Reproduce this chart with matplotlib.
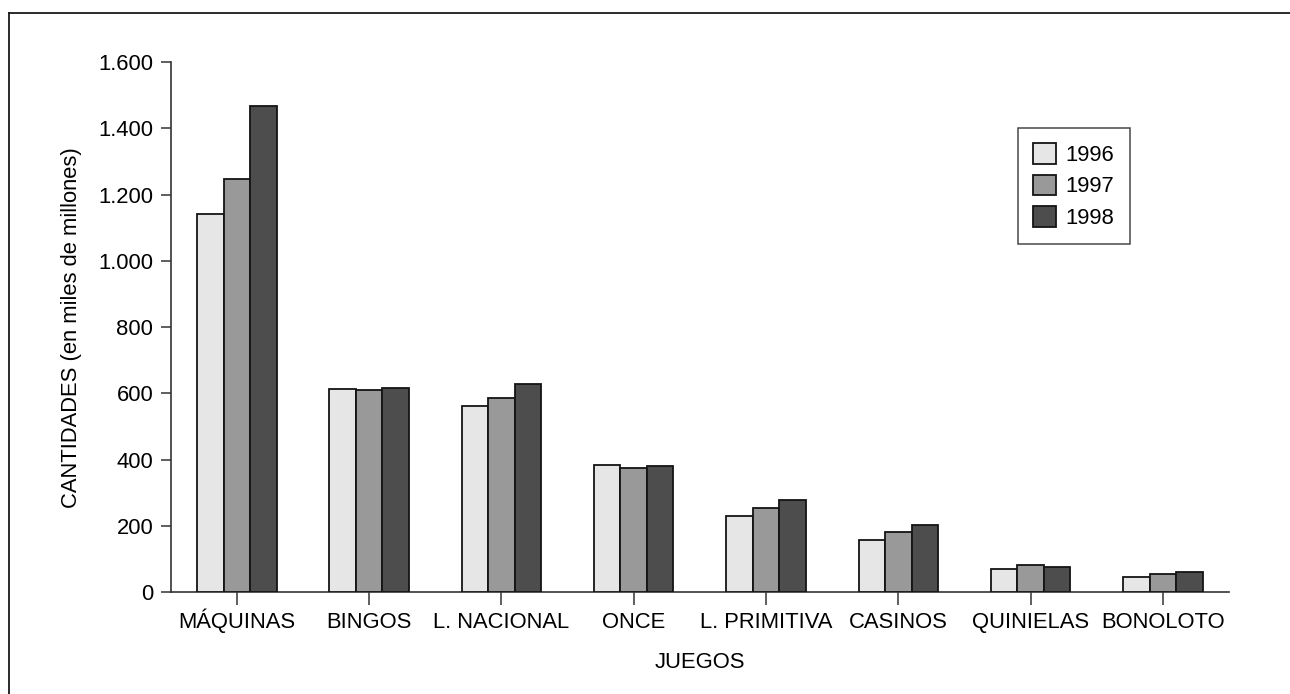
import matplotlib
matplotlib.use("Agg")
import matplotlib.pyplot as plt
from matplotlib.lines import Line2D
from matplotlib.ticker import FuncFormatter
import numpy as np

plt.rcParams['font.family'] = ['Liberation Sans', 'DejaVu Sans']

# Datos
juegos = ['MÁQUINAS', 'BINGOS', 'L. NACIONAL', 'ONCE', 'L. PRIMITIVA',
          'CASINOS', 'QUINIELAS', 'BONOLOTO']
anios = ['1996', '1997', '1998']
v1996 = [1140, 612, 563, 385, 231, 157, 69, 47]
v1997 = [1247, 610, 587, 374, 255, 182, 83, 55]
v1998 = [1468, 616, 628, 380, 279, 203, 77, 62]
colores = ['#e6e6e6', '#999999', '#4d4d4d']

W, H = 1290, 694
fig = plt.figure(figsize=(W / 100, H / 100), dpi=100)
ax = fig.add_axes([170.7 / W, 1 - 592.3 / H, (1229 - 170.7) / W, (592.3 - 62) / H])

x = np.arange(len(juegos))
ancho = 0.2
for k, (serie, col) in enumerate(zip([v1996, v1997, v1998], colores)):
    ax.bar(x + (k - 1) * ancho, serie, ancho, color=col, edgecolor='#141414',
           linewidth=1.3, label=anios[k], zorder=3)

ax.set_xlim(-0.5, len(juegos) - 0.5)
ax.set_ylim(0, 1600)
ax.set_yticks(np.arange(0, 1601, 200))
ax.yaxis.set_major_formatter(FuncFormatter(lambda v, p: f'{int(v):,}'.replace(',', '.')))
ax.set_xticks(x)
ax.set_xticklabels(juegos, va='baseline')

for s in ['top', 'right']:
    ax.spines[s].set_visible(False)
for s in ['left', 'bottom']:
    ax.spines[s].set_color('#333333')
    ax.spines[s].set_linewidth(1.2)

fs = 15.8
ax.tick_params(axis='y', direction='out', length=7.5, width=1.1, color='#333333',
               labelsize=fs, pad=5)
ax.tick_params(axis='x', direction='out', length=9, width=1.1, color='#333333',
               labelsize=fs, pad=16.5)

ax.set_xlabel('JUEGOS', fontsize=fs, labelpad=14)
ax.set_ylabel('CANTIDADES (en miles de millones)', fontsize=fs, labelpad=12)

leg = ax.legend(loc='upper left', bbox_to_anchor=(1018 / W, 1 - 128 / H),
                bbox_transform=fig.transFigure, fontsize=fs, frameon=True,
                fancybox=False, edgecolor='#1a1a1a', borderaxespad=0,
                handlelength=1.05, handleheight=1.05, handletextpad=0.42,
                labelspacing=0.4, borderpad=0.7)
leg.get_frame().set_linewidth(1.1)

# marco exterior (solo izquierda y arriba visibles)
fig.add_artist(Line2D([9.3 / W, 9.3 / W], [0, 1 - 12.7 / H], color='#1a1a1a', lw=1.3))
fig.add_artist(Line2D([9.3 / W, 1.01], [1 - 12.7 / H, 1 - 12.7 / H], color='#1a1a1a', lw=1.3))

fig.savefig('out.png', dpi=100)
